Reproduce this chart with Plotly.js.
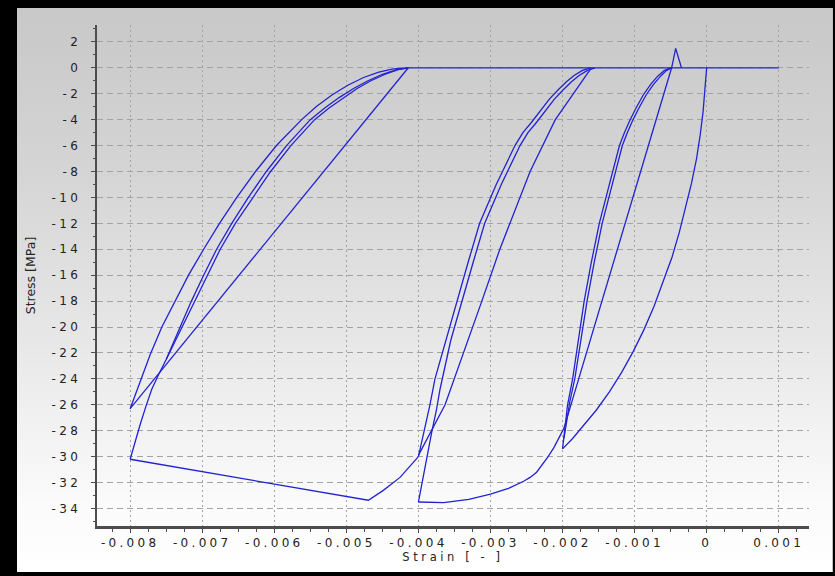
<!DOCTYPE html>
<html>
<head>
<meta charset="utf-8">
<script src="https://cdn.plot.ly/plotly-3.0.1.min.js"></script>
<style>
  html, body { margin: 0; padding: 0; background: #000; width: 835px; height: 576px; overflow: hidden; }
  #frame {
    position: absolute; left: 17px; top: 8px; width: 815px; height: 564px;
    background: linear-gradient(to bottom, #c8c8c8 0%, #d5d5d5 30%, #e8e8e8 60%, #fbfbfb 88%, #ffffff 100%);
    border-right: 1px solid #bdbdbd;
  }
  #chart { position: absolute; left: 0; top: 0; width: 835px; height: 576px; }
  #chart .xtick text, #chart .ytick text { letter-spacing: 3.3px; }
  #chart .g-xtitle text { letter-spacing: 3.6px; }
</style>
</head>
<body>
<div id="frame"></div>
<div id="chart"></div>
<script>
// Cyclic compression test of concrete: strain [-] vs stress [MPa]

// Axis ticks
const xTickVals = [-0.008, -0.007, -0.006, -0.005, -0.004, -0.003, -0.002, -0.001, 0, 0.001];
const xTickText = ['-0.008', '-0.007', '-0.006', '-0.005', '-0.004', '-0.003', '-0.002', '-0.001', '0', '0.001'];
const yTickVals = [-34, -32, -30, -28, -26, -24, -22, -20, -18, -16, -14, -12, -10, -8, -6, -4, -2, 0, 2];
const yTickText = ['-34', '-32', '-30', '-28', '-26', '-24', '-22', '-20', '-18', '-16', '-14', '-12', '-10', '-8', '-6', '-4', '-2', '0', '2'];

// Strain values below are in units of 1e-3 and scaled when the traces are built.

// Virgin loading branch 0 -> -2
const envStrain = [0, -0.02, -0.05, -0.09, -0.14, -0.21, -0.29, -0.38, -0.48, -0.60, -0.73, -0.87, -1.02, -1.18, -1.35, -1.53, -1.72, -1.86, -2.00];
const envStress = [0, -1.6, -3.4, -5.2, -7.0, -8.9, -10.8, -12.7, -14.6, -16.5, -18.4, -20.2, -21.9, -23.5, -25.0, -26.4, -27.7, -28.6, -29.4];

// Unloading from -2 (two passes)
const unl1aStrain = [-2.00, -1.97, -1.93, -1.86, -1.78, -1.70, -1.60, -1.49, -1.35, -1.21, -1.14, -1.07, -0.98, -0.88, -0.78, -0.68, -0.59, -0.50];
const unl1aStress = [-29.4, -28, -26, -24, -21, -18, -15, -12, -9, -6, -5, -4.1, -3.1, -2.1, -1.3, -0.65, -0.22, 0];
const unl1bStrain = [-1.98, -1.95, -1.90, -1.83, -1.75, -1.66, -1.56, -1.45, -1.31, -1.17, -1.10, -1.03, -0.94, -0.84, -0.74, -0.64, -0.56, -0.48];
const unl1bStress = [-28.6, -27.6, -25.8, -24, -21, -18, -15, -12, -9, -6, -5, -4.1, -3.1, -2.1, -1.3, -0.65, -0.22, 0];

// Tension peak and cracking
const tenStrain = [-0.486, -0.43, -0.35];
const tenStress = [0, 1.5, 0];

// Open crack: zero stress
const crackStrain = [-4.14, 1.0];
const crackStress = [0, 0];

// Reloading towards -2
const rel1Strain = [-0.486, -1.98];
const rel1Stress = [0, -27.8];

// Envelope -2 -> -4
const env2Strain = [-1.98, -2.05, -2.12, -2.20, -2.30, -2.36, -2.45, -2.54, -2.75, -3.00, -3.30, -3.65, -4.00];
const env2Stress = [-27.8, -28.6, -29.3, -30.0, -30.8, -31.2, -31.6, -31.9, -32.45, -32.9, -33.3, -33.55, -33.5];

// Unloading from -4
const unl2aStrain = [-4.00, -3.93, -3.87, -3.815, -3.75, -3.70, -3.55, -3.40, -3.24, -3.08, -2.85, -2.59, -2.48, -2.36, -2.24, -2.11, -1.99, -1.88, -1.77, -1.66, -1.55];
const unl2aStress = [-33.5, -31.4, -29.6, -28.1, -26.4, -24.8, -21, -18, -15, -12, -9, -6, -5, -4.2, -3.3, -2.4, -1.7, -1.1, -0.6, -0.22, 0];
const unl2bStrain = [-4.00, -3.96, -3.91, -3.84, -3.77, -3.62, -3.47, -3.31, -3.15, -2.92, -2.66, -2.55, -2.43, -2.31, -2.18, -2.06, -1.95, -1.84, -1.73, -1.62];
const unl2bStress = [-30.0, -29, -28, -26, -24, -21, -18, -15, -12, -9, -6, -5, -4.2, -3.3, -2.4, -1.7, -1.1, -0.6, -0.22, 0];

// Reloading towards -4
const rel2Strain = [-1.60, -1.85, -2.10, -2.45, -2.87, -3.12, -3.38, -3.63, -4.00];
const rel2Stress = [0, -2, -4, -8, -14, -18, -22, -26, -29.9];

// Softening branch -4 -> -8
const env3Strain = [-4.00, -4.255, -4.487, -4.695, -8.00];
const env3Stress = [-30.0, -31.6, -32.6, -33.36, -30.2];

// Unloading from -8
const unl3aStrain = [-8.00, -7.93, -7.86, -7.78, -7.70, -7.60, -7.50, -7.33, -7.15, -6.98, -6.80, -6.59, -6.36, -6.11, -5.83, -5.50, -5.30, -5.10, -4.90, -4.70, -4.50, -4.30, -4.14];
const unl3aStress = [-30.2, -28.8, -27.5, -26.1, -24.8, -23.6, -22.5, -20.3, -18, -16, -14, -12, -10, -8, -6, -4, -3.1, -2.3, -1.6, -1.0, -0.5, -0.15, 0];
const unl3bStrain = [-7.50, -7.30, -7.10, -6.93, -6.75, -6.54, -6.30, -6.05, -5.77, -5.44, -5.24, -5.04, -4.85, -4.66, -4.46, -4.28, -4.14];
const unl3bStress = [-22.5, -20.2, -18, -16, -14, -12, -10, -8, -6, -4, -3.1, -2.3, -1.6, -1.0, -0.5, -0.15, 0];
const unl3cStrain = [-8.00, -7.86, -7.72, -7.56, -7.38, -7.19, -6.98, -6.76, -6.52, -6.26, -5.97, -5.80, -5.62, -5.42, -5.20, -4.98, -4.76, -4.55, -4.35, -4.14];
const unl3cStress = [-26.3, -24.2, -22.1, -20, -18, -16, -14, -12, -10, -8, -6, -5, -4, -3, -2.1, -1.35, -0.75, -0.33, -0.08, 0];

// Reloading towards -8
const rel3Strain = [-4.14, -8.00];
const rel3Stress = [0, -26.3];

const curveColor = '#2222d2';
const paths = [
  [envStrain, envStress], [unl1aStrain, unl1aStress], [unl1bStrain, unl1bStress],
  [tenStrain, tenStress], [crackStrain, crackStress], [rel1Strain, rel1Stress],
  [env2Strain, env2Stress], [unl2aStrain, unl2aStress], [unl2bStrain, unl2bStress],
  [rel2Strain, rel2Stress], [env3Strain, env3Stress], [unl3aStrain, unl3aStress],
  [unl3bStrain, unl3bStress], [unl3cStrain, unl3cStress], [rel3Strain, rel3Stress]
];

const traces = paths.map(([x, y]) => ({
  x: x.map(v => v / 1000), y: y, type: 'scatter', mode: 'lines',
  line: { color: curveColor, width: 1.3 },
  hoverinfo: 'skip', showlegend: false
}));

const axisColor = '#4d4d4d';
const fontFamily = 'DejaVu Sans, Verdana, sans-serif';
const tickFont = { family: fontFamily, size: 12, color: '#222' };

const layout = {
  width: 835, height: 576,
  margin: { l: 97, r: 26, t: 25, b: 50 },
  paper_bgcolor: 'rgba(0,0,0,0)',
  plot_bgcolor: 'rgba(0,0,0,0)',
  showlegend: false,
  xaxis: {
    range: [-0.00846, 0.00142],
    tickmode: 'array', tickvals: xTickVals, ticktext: xTickText,
    tickfont: tickFont,
    showline: true, linecolor: axisColor, linewidth: 2.5,
    ticks: 'outside', ticklen: 4, tickcolor: axisColor, tickwidth: 1,
    minor: { tickmode: 'linear', tick0: 0, dtick: 0.00025, ticks: 'outside', ticklen: 3, tickcolor: axisColor, showgrid: false },
    showgrid: true, gridcolor: '#a3a3a3', griddash: '2px,3px', gridwidth: 1,
    zeroline: false,
    title: { text: 'Strain [ - ]', font: { family: fontFamily, size: 11.5, color: '#222' }, standoff: 1 }
  },
  yaxis: {
    range: [-35.35, 3.3],
    tickmode: 'array', tickvals: yTickVals, ticktext: yTickText,
    tickfont: tickFont, ticklabelstandoff: 7,
    showline: true, linecolor: axisColor, linewidth: 2.5,
    ticks: 'outside', ticklen: 4, tickcolor: axisColor, tickwidth: 1,
    minor: { tickmode: 'linear', tick0: 0, dtick: 1, ticks: 'outside', ticklen: 2, tickcolor: axisColor, showgrid: false },
    showgrid: true, gridcolor: '#a3a3a3', griddash: '6px,4px', gridwidth: 1,
    zeroline: false,
    title: { text: 'Stress [MPa]', font: { family: fontFamily, size: 12.5, color: '#222' }, standoff: 23 }
  }
};

Plotly.newPlot('chart', traces, layout, { staticPlot: true, displayModeBar: false });
</script>
</body>
</html>
